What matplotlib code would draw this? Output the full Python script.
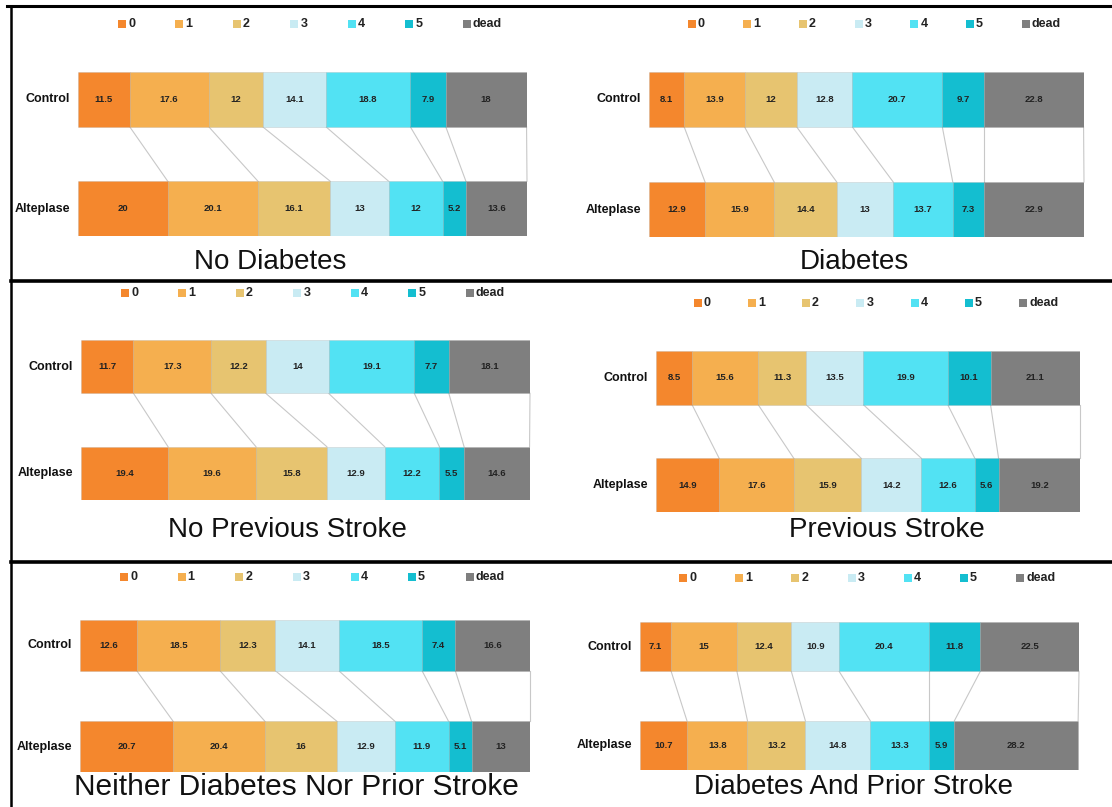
import matplotlib
matplotlib.use("Agg")
import matplotlib.pyplot as plt
from matplotlib.lines import Line2D
from matplotlib.patches import Rectangle

plt.rcParams['font.family'] = ['Liberation Sans', 'DejaVu Sans']

W, H = 1112, 807

categories = ['0', '1', '2', '3', '4', '5', 'dead']
colors = ['#F4872D', '#F5AF4F', '#E7C470', '#C9EBF3', '#52E2F3', '#14BED0', '#7F7F7F']
groups = ['Control', 'Alteplase']

titles = ['No Diabetes', 'Diabetes', 'No Previous Stroke', 'Previous Stroke',
          'Neither Diabetes Nor Prior Stroke', 'Diabetes And Prior Stroke']

control = [
    [11.5, 17.6, 12, 14.1, 18.8, 7.9, 18],
    [8.1, 13.9, 12, 12.8, 20.7, 9.7, 22.8],
    [11.7, 17.3, 12.2, 14, 19.1, 7.7, 18.1],
    [8.5, 15.6, 11.3, 13.5, 19.9, 10.1, 21.1],
    [12.6, 18.5, 12.3, 14.1, 18.5, 7.4, 16.6],
    [7.1, 15, 12.4, 10.9, 20.4, 11.8, 22.5],
]
alteplase = [
    [20, 20.1, 16.1, 13, 12, 5.2, 13.6],
    [12.9, 15.9, 14.4, 13, 13.7, 7.3, 22.9],
    [19.4, 19.6, 15.8, 12.9, 12.2, 5.5, 14.6],
    [14.9, 17.6, 15.9, 14.2, 12.6, 5.6, 19.2],
    [20.7, 20.4, 16, 12.9, 11.9, 5.1, 13],
    [10.7, 13.8, 13.2, 14.8, 13.3, 5.9, 28.2],
]

# panel boxes in pixels: left, right, top, bottom (bars area)
boxes = [
    (78, 527, 72, 236),
    (649, 1084, 72, 237),
    (81, 530, 340, 500),
    (656, 1080, 351, 512),
    (80, 530, 620, 772),
    (640, 1079, 622, 770),
]
# title centre (pixels), title size and legend offset above bars
title_pos = [(270, 262), (854, 262), (287, 530), (887, 530), (296, 787), (853, 787)]
title_size = [20, 20, 20, 20, 21.5, 20]
legend_gap = [48, 48, 47, 48, 43, 44]

fig = plt.figure(figsize=(W / 100, H / 100), dpi=100)


def fx(px):
    return px / W


def fy(py):
    return 1 - py / H


for k in range(6):
    l, r, t, b = boxes[k]
    ax = fig.add_axes([fx(l), fy(b), fx(r) - fx(l), fy(t) - fy(b)])
    rows = [control[k], alteplase[k]]
    ypos = [1, 0]
    h = 0.5
    cums = []
    for vals, yy in zip(rows, ypos):
        left = 0
        cum = []
        for i, v in enumerate(vals):
            ax.barh(yy, v, left=left, height=h, color=colors[i],
                    edgecolor=(0.6, 0.6, 0.6, 0.3), linewidth=0.5)
            ax.text(left + v / 2, yy, f'{v:g}', ha='center', va='center',
                    fontsize=6.8, fontweight='bold', color='#222222')
            left += v
            cum.append(left)
        cums.append(cum)
    # connector lines between matching boundaries
    for i in range(len(categories)):
        ax.plot([cums[0][i], cums[1][i]], [1 - h / 2, h / 2],
                color='#c8c8c8', lw=0.8, zorder=0, clip_on=False)
    ax.set_xlim(0, max(sum(control[k]), sum(alteplase[k])))
    ax.set_ylim(-h / 2, 1 + h / 2)
    ax.axis('off')
    for g, yy in zip(groups, ypos):
        ax.text(-0.018, (yy + h / 2) / (1 + h), g, transform=ax.transAxes,
                ha='right', va='center', fontsize=9, fontweight='bold', color='#111111')

    # legend
    ly = t - legend_gap[k]
    for i, c in enumerate(categories):
        xfrac = 0.098 + 0.128 * i
        mx = l + xfrac * (r - l)
        fig.patches.append(Rectangle((fx(mx - 4), fy(ly + 4)), fx(8), 8 / H,
                                     transform=fig.transFigure, color=colors[i], lw=0))
        fig.text(fx(mx + 6), fy(ly), c, ha='left', va='center', fontsize=9,
                 fontweight='bold', color='#222222')

    tx, ty = title_pos[k]
    fig.text(fx(tx), fy(ty), titles[k], ha='center', va='center',
             fontsize=title_size[k], color='#111111')

# frame lines
fig.add_artist(Line2D([fx(7), 1], [fy(6), fy(6)], color='black', lw=2.2))
fig.add_artist(Line2D([fx(11), fx(11)], [fy(6), 0], color='black', lw=1.8))
for yy in [281, 562]:
    fig.add_artist(Line2D([fx(11), 1], [fy(yy), fy(yy)], color='black', lw=2.6))

fig.savefig('out.png', dpi=100)
